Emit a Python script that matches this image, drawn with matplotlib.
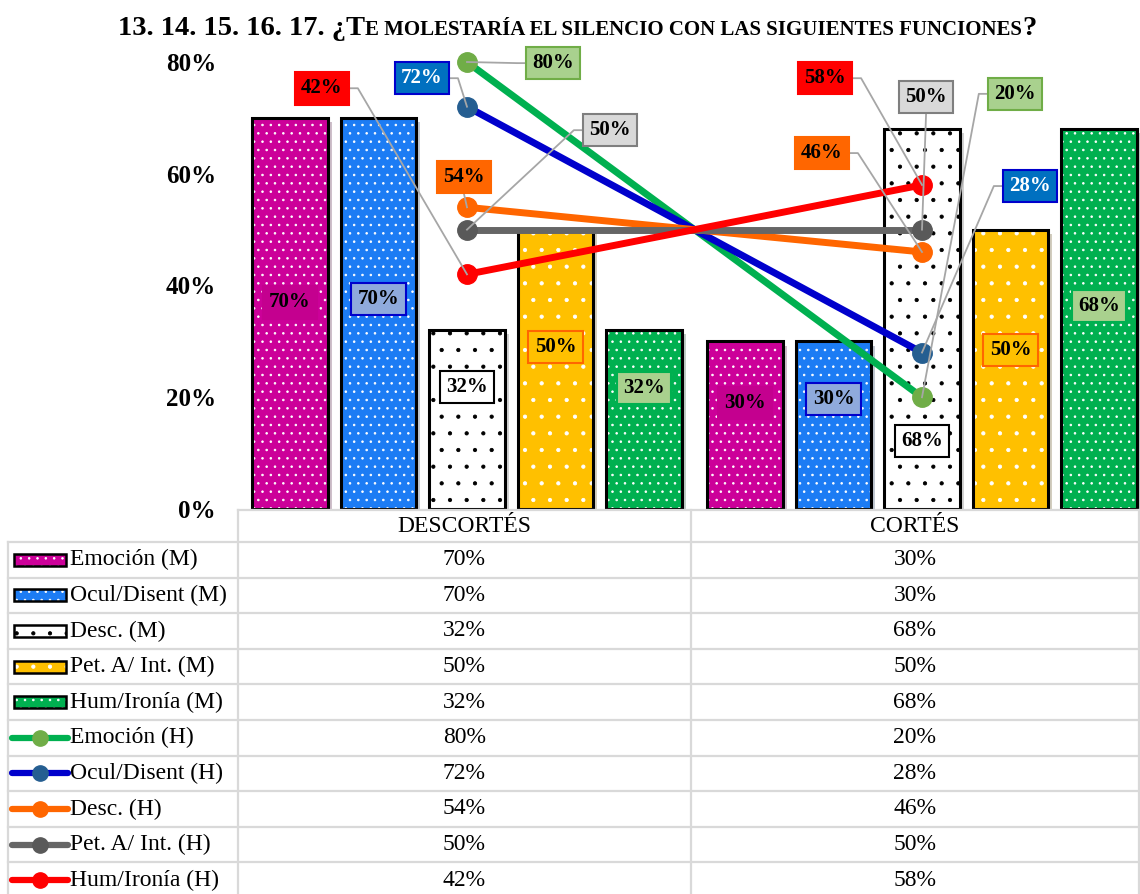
import numpy as np
import matplotlib
matplotlib.use('Agg')
import matplotlib.pyplot as plt
import matplotlib.patheffects as pe
from matplotlib.patches import Rectangle
from matplotlib.lines import Line2D

plt.rcParams['font.family'] = ['Liberation Serif', 'DejaVu Serif']
plt.rcParams['hatch.linewidth'] = 0.6

# datos
categories = ['DESCORTÉS', 'CORTÉS']
bar_names = ['Emoción (M)', 'Ocul/Disent (M)', 'Desc. (M)', 'Pet. A/ Int. (M)', 'Hum/Ironía (M)']
bar_vals = [[70, 30], [70, 30], [32, 68], [50, 50], [32, 68]]
line_names = ['Emoción (H)', 'Ocul/Disent (H)', 'Desc. (H)', 'Pet. A/ Int. (H)', 'Hum/Ironía (H)']
line_vals = [[80, 20], [72, 28], [54, 46], [50, 50], [42, 58]]
yticks = [0, 20, 40, 60, 80]

# estilos
bar_fc = ['#CC0099', '#1C7CF4', '#FFFFFF', '#FFC000', '#00B050']
bar_dot = ['white', 'white', 'black', 'white', 'white']
bar_hatch = ['..', '..', '.', '.', '..']
bar_lab_fc = ['#C4008F', '#8FAADC', 'white', '#FFC000', '#A9D18E']
bar_lab_ec = ['#C4008F', '#0000CC', 'black', '#FF6600', '#00B050']
# altura de las etiquetas (en %), como en el original
bar_lab_y = [[37, 19], [37.6, 19.7], [21.8, 12.2], [29, 28.5], [21.7, 36.3]]

line_c = ['#00B050', '#0000CC', '#FF6600', '#666666', '#FF0000']
mark_c = ['#70AD47', '#255E91', '#FF6600', '#595959', '#FF0000']
line_lab_fc = ['#A9D18E', '#0070C0', '#FF6600', '#D9D9D9', '#FF0000']
line_lab_ec = ['#70AD47', '#0000CC', '#FF6600', '#7F7F7F', '#FF0000']
line_lab_tc = ['black', 'white', 'black', 'black', 'black']
# posicion de las cajas (desplazamiento x, y en %)
line_lab_pos = [[(0.189, 79.8), (0.204, 74.3)],
                [(-0.099, 77.1), (0.237, 57.8)],
                [(-0.007, 59.4), (-0.22, 63.7)],
                [(0.314, 67.8), (0.009, 73.7)],
                [(-0.319, 75.3), (-0.213, 77.1)]]

W, H = 1140, 894
fig = plt.figure(figsize=(W / 100, H / 100), dpi=100)
ax = fig.add_axes([239.5 / W, 1 - 509 / H, 910 / W, 447 / H])
ax.set_xlim(-0.5, 1.5)
ax.set_ylim(0, 80)
for s in ax.spines.values():
    s.set_visible(False)
ax.set_xticks([])
ax.set_yticks(yticks)
ax.set_yticklabels([f'{v}%' for v in yticks], fontsize=18, fontweight='bold')
ax.tick_params(axis='y', length=0, pad=17)

x = np.arange(len(categories))
step, bw = 0.1945, 0.165
shadow = [pe.SimplePatchShadow(offset=(3, -3), alpha=0.25), pe.Normal()]
for i in range(5):
    xs = x + (i - 2) * step
    ax.bar(xs, bar_vals[i], bw, color=bar_fc[i], linewidth=0, zorder=2, path_effects=shadow)
    ax.bar(xs, bar_vals[i], bw, color='none', edgecolor=bar_dot[i], hatch=bar_hatch[i],
           linewidth=0, zorder=2.1)
    ax.bar(xs, bar_vals[i], bw, color='none', edgecolor='black', linewidth=2.2, zorder=2.2)
    for j in range(2):
        ax.text(xs[j], bar_lab_y[i][j], f'{bar_vals[i][j]}%', ha='center', va='center',
                fontsize=15, fontweight='bold', zorder=3,
                bbox=dict(boxstyle='square,pad=0.3', fc=bar_lab_fc[i], ec=bar_lab_ec[i], lw=1.5))

for i in range(5):
    ax.plot(x, line_vals[i], color=line_c[i], lw=5, marker='o', ms=14, mfc=mark_c[i],
            mec=mark_c[i], zorder=4, clip_on=False, solid_capstyle='butt')

# lineas guia y etiquetas de las series de lineas
to_disp = ax.transData.transform
to_data = ax.transData.inverted().transform
hw, hh, stub = 28, 16, 8
for i in range(5):
    for j in range(2):
        dx, ly = line_lab_pos[i][j]
        bx, by = to_disp((x[j] + dx, ly))
        mx, my = to_disp((x[j], line_vals[i][j]))
        if bx + hw < mx:
            pts = [(bx + hw, by), (bx + hw + stub, by), (mx, my)]
        elif bx - hw > mx:
            pts = [(bx - hw, by), (bx - hw - stub, by), (mx, my)]
        else:
            pts = [(bx, by - hh), (mx, my)]
        d = to_data(np.array(pts))
        ax.plot(d[:, 0], d[:, 1], color='#A6A6A6', lw=1.3, zorder=4.5, clip_on=False)
        ax.text(x[j] + dx, ly, f'{line_vals[i][j]}%', ha='center', va='center',
                fontsize=15, fontweight='bold', color=line_lab_tc[i], zorder=6,
                bbox=dict(boxstyle='square,pad=0.3', fc=line_lab_fc[i], ec=line_lab_ec[i], lw=1.5))

# tabla de datos
tab = fig.add_axes([0, 0, 1, 1])
tab.set_xlim(0, W)
tab.set_ylim(H, 0)
tab.axis('off')
tab.patch.set_alpha(0)
gc, glw = '#D9D9D9', 1.6
top, r0, rh = 510, 542, 35.6
c_left, c_mid, c_right = 238, 691, 1139
tab.plot([c_left, c_right], [top, top], color=gc, lw=glw)
for k in range(11):
    y = r0 + k * rh
    tab.plot([8, c_right], [y, y], color=gc, lw=glw)
tab.plot([c_left, c_left], [top, H], color=gc, lw=glw)
tab.plot([c_mid, c_mid], [top, H], color=gc, lw=glw)
tab.plot([c_right, c_right], [top, H], color=gc, lw=glw)
tab.plot([8, 8], [r0, H], color=gc, lw=glw)

centers = [(c_left + c_mid) / 2, (c_mid + c_right) / 2]
for j, cat in enumerate(categories):
    tab.text(centers[j], (top + r0) / 2 + 1, cat, ha='center', va='center', fontsize=17)

names = bar_names + line_names
vals = bar_vals + line_vals
for k in range(10):
    yc = r0 + (k + 0.5) * rh
    if k < 5:
        tab.add_patch(Rectangle((14, yc - 6), 52, 12, fc=bar_fc[k], ec='none'))
        tab.add_patch(Rectangle((14, yc - 6), 52, 12, fc='none', ec=bar_dot[k],
                                hatch=bar_hatch[k], lw=0))
        tab.add_patch(Rectangle((14, yc - 6), 52, 12, fc='none', ec='black', lw=1.8))
    else:
        m = k - 5
        tab.add_line(Line2D([12, 68], [yc, yc], lw=4.5, color=line_c[m], solid_capstyle='round'))
        tab.plot([40], [yc], marker='o', ms=11, mfc=mark_c[m], mec=mark_c[m])
    tab.text(70, yc, names[k], ha='left', va='center', fontsize=17)
    for j in range(2):
        tab.text(centers[j], yc, f'{vals[k][j]}%', ha='center', va='center', fontsize=17)

# titulo en versalitas
r = fig.canvas.get_renderer()
parts = [('13. 14. 15. 16. 17. ¿T', 20.5), ('E MOLESTARÍA EL SILENCIO CON LAS SIGUIENTES FUNCIONES', 15), ('?', 20.5)]
txts, widths = [], []
for s, fs in parts:
    t = fig.text(0, 1 - 35 / H, s, fontsize=fs, fontweight='bold', va='baseline', ha='left')
    txts.append(t)
    widths.append(t.get_window_extent(r).width)
x0 = 577.5 - sum(widths) / 2
for t, w in zip(txts, widths):
    t.set_x(x0 / W)
    x0 += w

fig.savefig('out.png', dpi=100)
